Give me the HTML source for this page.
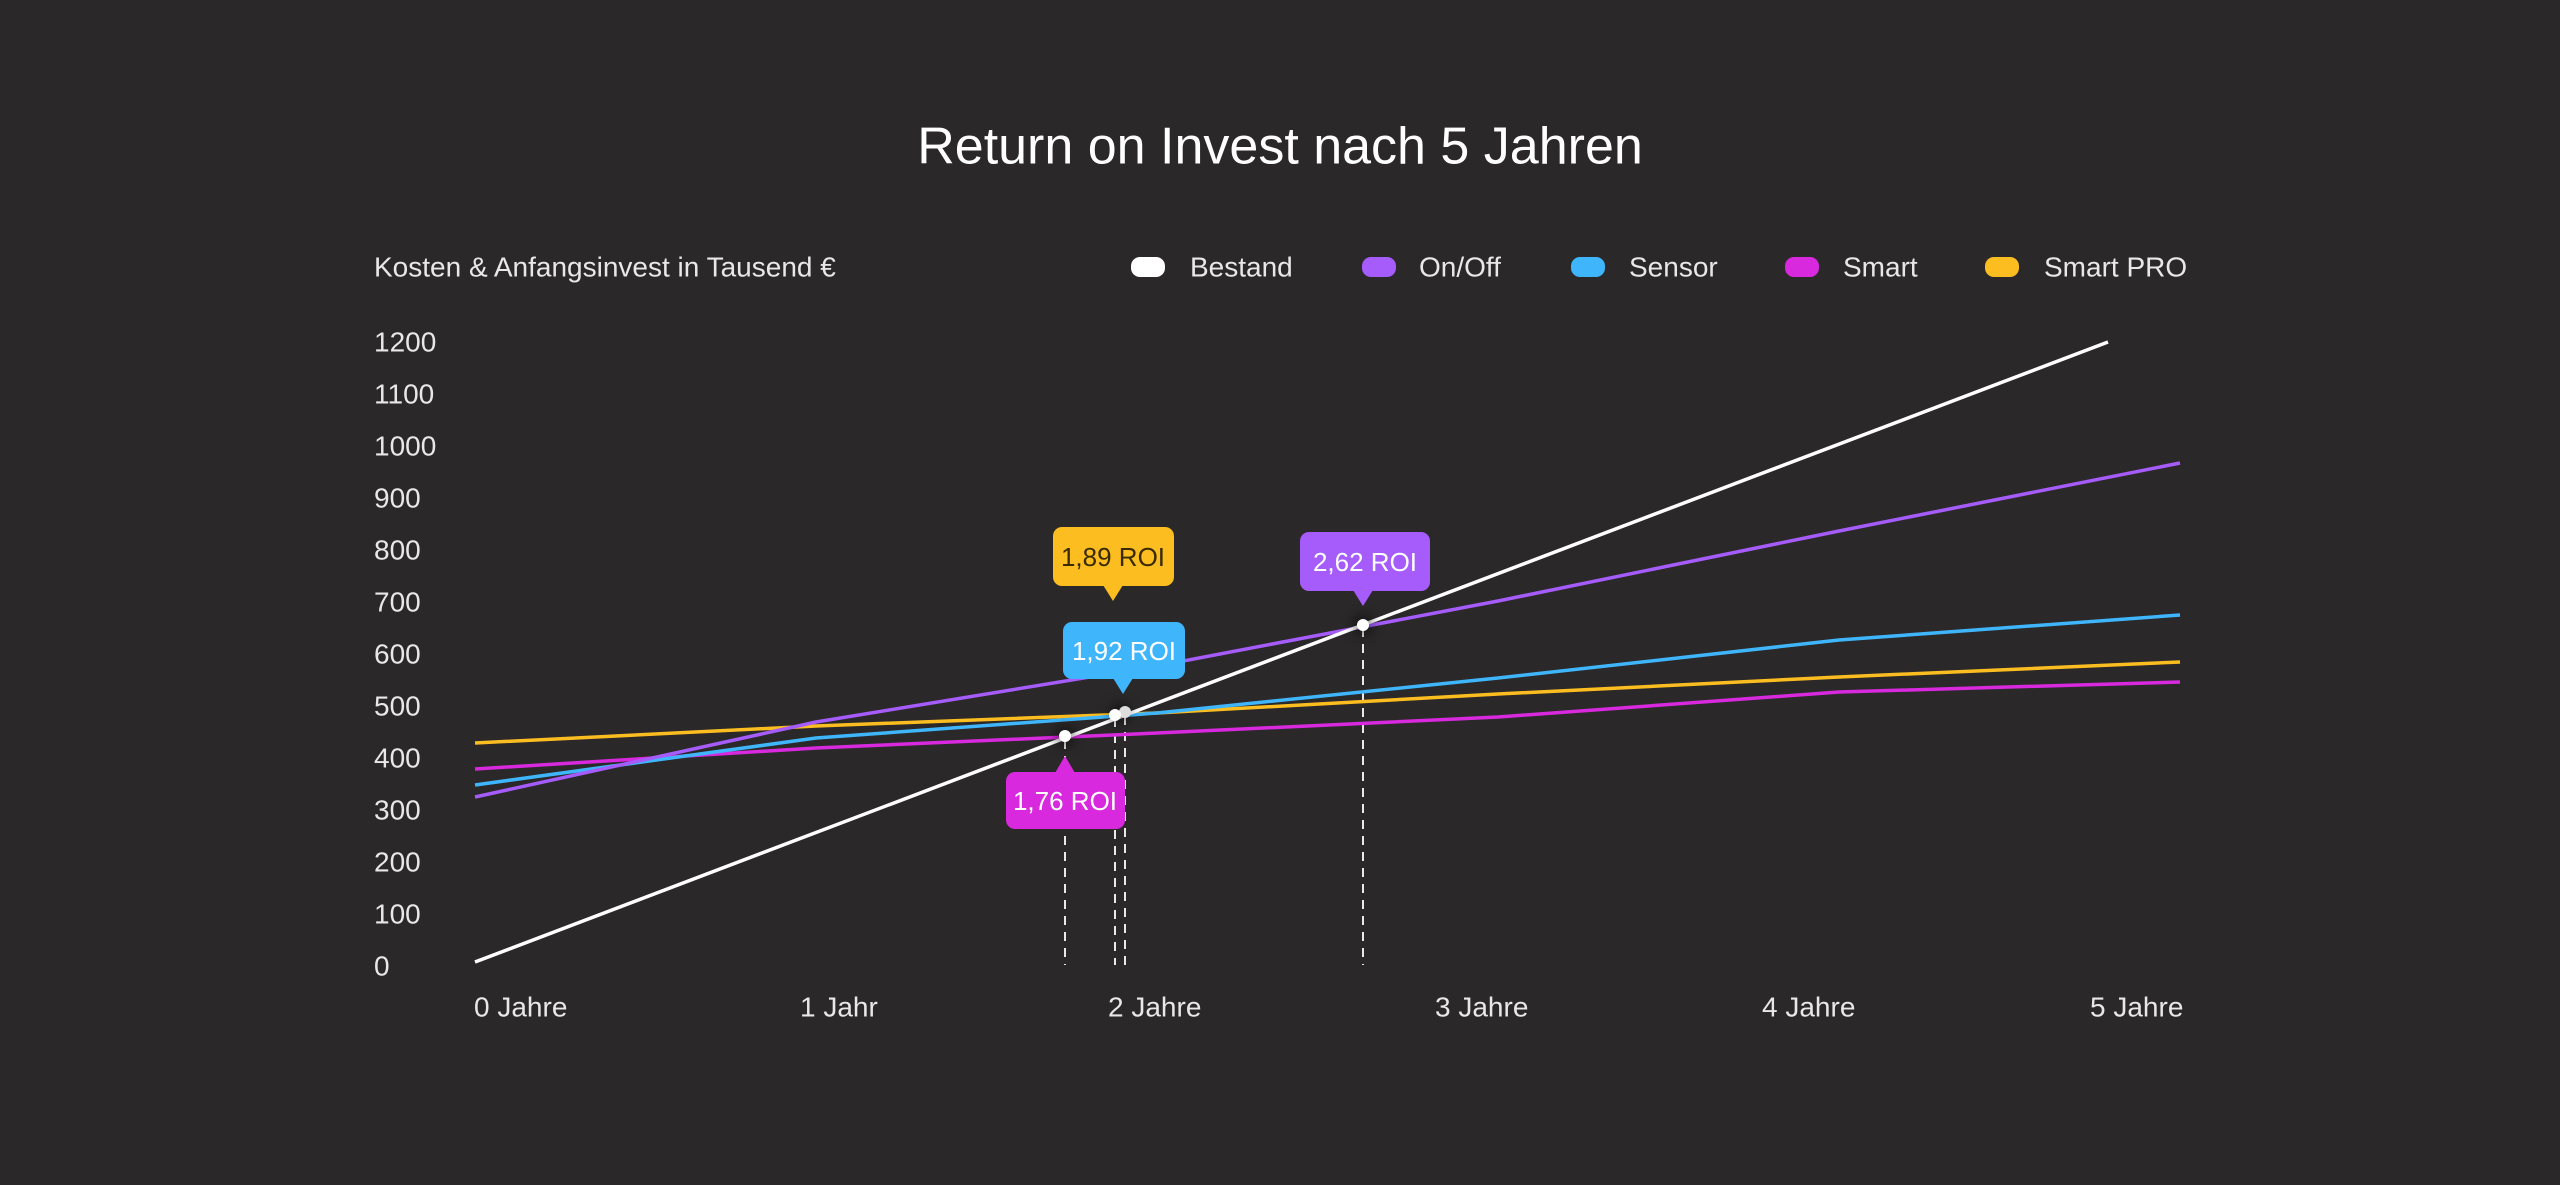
<!DOCTYPE html>
<html><head><meta charset="utf-8"><style>
html,body{margin:0;padding:0;background:#2a2829;}
svg{display:block;font-family:"Liberation Sans",sans-serif;}
</style></head><body>
<svg width="2560" height="1185" viewBox="0 0 2560 1185" xmlns="http://www.w3.org/2000/svg">
<rect width="2560" height="1185" fill="#2a2829"/>
<defs><filter id="gl" x="-3" y="-3" width="7" height="7"><feGaussianBlur stdDeviation="6"/></filter></defs>
<text x="1280" y="150" fill="#ffffff" font-size="52" text-anchor="middle" dominant-baseline="middle">Return on Invest nach 5 Jahren</text>
<text x="374" y="269" fill="#e8e8e8" font-size="28" dominant-baseline="middle">Kosten &amp; Anfangsinvest in Tausend €</text>
<g font-size="28" fill="#e8e8e8" dominant-baseline="middle">
<rect x="1131" y="257" width="34" height="20" rx="9" fill="#ffffff"/><text x="1190" y="269">Bestand</text>
<rect x="1362" y="257" width="34" height="20" rx="9" fill="#a55cfb"/><text x="1419" y="269">On/Off</text>
<rect x="1571" y="257" width="34" height="20" rx="9" fill="#3fb5fb"/><text x="1629" y="269">Sensor</text>
<rect x="1785" y="257" width="34" height="20" rx="9" fill="#d929de"/><text x="1843" y="269">Smart</text>
<rect x="1985" y="257" width="34" height="20" rx="9" fill="#fbbd1f"/><text x="2044" y="269">Smart PRO</text>
</g>
<g font-size="28" fill="#e8e8e8" dominant-baseline="middle">
<text x="374" y="344">1200</text><text x="374" y="396">1100</text><text x="374" y="448">1000</text>
<text x="374" y="500">900</text><text x="374" y="552">800</text><text x="374" y="604">700</text>
<text x="374" y="656">600</text><text x="374" y="708">500</text><text x="374" y="760">400</text>
<text x="374" y="812">300</text><text x="374" y="864">200</text><text x="374" y="916">100</text>
<text x="374" y="968">0</text>
<text x="474" y="1009">0 Jahre</text><text x="800" y="1009">1 Jahr</text><text x="1108" y="1009">2 Jahre</text>
<text x="1435" y="1009">3 Jahre</text><text x="1762" y="1009">4 Jahre</text><text x="2090" y="1009">5 Jahre</text>
</g>
<g stroke="#ffffff" stroke-width="2" stroke-dasharray="9,7" opacity="0.9">
<line x1="1065" y1="740" x2="1065" y2="965"/><line x1="1115" y1="718" x2="1115" y2="965"/>
<line x1="1125" y1="716" x2="1125" y2="965"/><line x1="1363" y1="628" x2="1363" y2="965"/>
</g>
<g fill="none" stroke-width="3.5" stroke-linejoin="round">
<polyline stroke="#fbbd1f" points="475,743 816,726 1157,713 1498,694 1839,677 2180,662"/>
<polyline stroke="#d929de" points="475,769 816,748 1157,733 1498,717 1839,692 2180,682"/>
<polyline stroke="#3fb5fb" points="475,785 816,738 1157,713 1498,678 1839,640 2180,615"/>
<polyline stroke="#a55cfb" points="475,797 816,722 1157,666 1498,601 1839,531 2180,463"/>
<polyline stroke="#ffffff" points="475,962 2108,342"/>
</g>
<g>
<circle cx="1065" cy="736" r="10" fill="#000" opacity="0.5" filter="url(#gl)"/>
<circle cx="1120" cy="713" r="10" fill="#000" opacity="0.5" filter="url(#gl)"/>
<circle cx="1363" cy="625" r="10" fill="#000" opacity="0.5" filter="url(#gl)"/>
<circle cx="1125" cy="712" r="6" fill="#ddd"/>
<circle cx="1115" cy="715" r="6" fill="#fff"/>
<circle cx="1065" cy="736" r="6" fill="#fff"/>
<circle cx="1363" cy="625" r="6" fill="#fff"/>
</g>
<g font-size="26" text-anchor="middle" dominant-baseline="middle">
<rect x="1053" y="527" width="121" height="59" rx="9" fill="#fbbd1f"/>
<polygon points="1103,585 1123,585 1113,601" fill="#fbbd1f"/>
<text x="1113" y="559" fill="#3a2a00">1,89 ROI</text>
<rect x="1063" y="622" width="122" height="57" rx="9" fill="#3fb5fb"/>
<polygon points="1113,678 1133,678 1123,694" fill="#3fb5fb"/>
<text x="1124" y="653" fill="#ffffff">1,92 ROI</text>
<rect x="1006" y="772" width="119" height="57" rx="9" fill="#d929de"/>
<polygon points="1055,773 1075,773 1065,756" fill="#d929de"/>
<text x="1065" y="803" fill="#ffffff">1,76 ROI</text>
<rect x="1300" y="532" width="130" height="59" rx="9" fill="#a55cfb"/>
<polygon points="1353,590 1373,590 1363,606" fill="#a55cfb"/>
<text x="1365" y="564" fill="#ffffff">2,62 ROI</text>
</g>
</svg>
</body></html>
